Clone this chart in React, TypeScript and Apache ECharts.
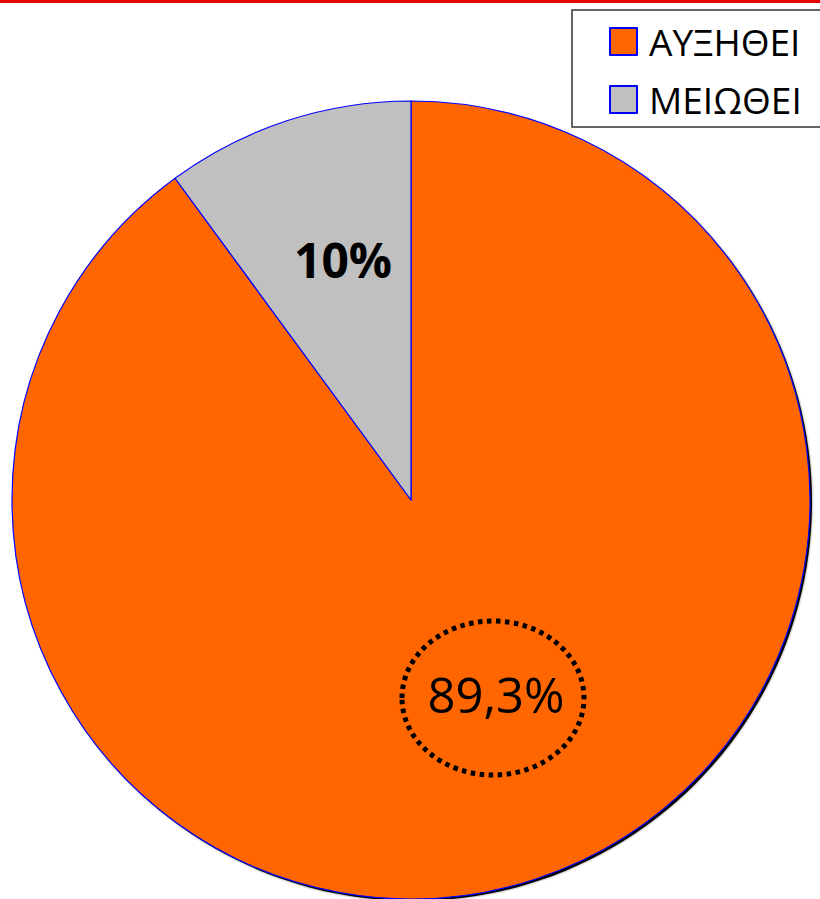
import React, { useEffect, useRef } from "react";
import * as echarts from "echarts";

const categories = ["ΑΥΞΗΘΕΙ", "ΜΕΙΩΘΕΙ"];
const values = [89.3, 10];
const labelTexts = ["89,3%", "10%"];
const colors = ["#ff6600", "#c0c0c0"];

export default function App() {
  const ref = useRef<HTMLDivElement>(null);
  useEffect(() => {
    document.body.style.margin = "0";
    const chart = echarts.init(ref.current!, null, { renderer: "svg" });
    const font = "'Open Sans', 'DejaVu Sans', sans-serif";
    chart.setOption({
      animation: false,
      backgroundColor: "#ffffff",
      legend: {
        data: categories,
        orient: "vertical",
        left: 572,
        top: 10,
        padding: [13, 40, 9, 37],
        itemWidth: 27,
        itemHeight: 27,
        itemGap: 21,
        borderColor: "#333333",
        borderWidth: 1.5,
        icon: "rect",
        textStyle: {
          fontFamily: font,
          fontSize: 37,
          color: "#000",
          padding: [0, 0, 0, 7],
        },
      },
      graphic: [
        {
          type: "rect",
          shape: { x: 0, y: 0, width: 820, height: 3 },
          style: { fill: "#e60000" },
          silent: true,
        },
        {
          type: "ellipse",
          shape: { cx: 493, cy: 698, rx: 91, ry: 77 },
          style: { fill: "none", stroke: "#000", lineWidth: 5, lineDash: [4.5, 4.5] },
          z: 100,
          silent: true,
        },
      ],
      series: [
        {
          type: "pie",
          silent: true,
          z: 1,
          center: [413, 502],
          radius: 399,
          data: [{ value: 1, name: "_shadow" }],
          itemStyle: { color: "#000", shadowBlur: 2, shadowColor: "rgba(0,0,0,0.6)" },
          label: { show: false },
          labelLine: { show: false },
        },
        {
          type: "pie",
          z: 2,
          center: [411, 500],
          radius: 399,
          startAngle: 90,
          clockwise: true,
          data: categories.map((c, i) => ({
            name: c,
            value: values[i],
            itemStyle: { color: colors[i] },
            label: {
              formatter: labelTexts[i],
              fontWeight: i === 1 ? "bold" : "normal",
              fontSize: i === 1 ? 48 : 49,
            },
          })),
          itemStyle: { borderColor: "#0000ff", borderWidth: 1.2 },
          label: {
            show: true,
            position: "inside",
            color: "#000",
            fontFamily: font,
          },
          labelLine: { show: false },
          labelLayout: (p: any) =>
            p.dataIndex === 1 ? { dx: -5, dy: -48 } : { dx: 22, dy: 2 },
        },
      ],
    });
    return () => chart.dispose();
  }, []);
  return <div ref={ref} style={{ width: 820, height: 899 }} />;
}
